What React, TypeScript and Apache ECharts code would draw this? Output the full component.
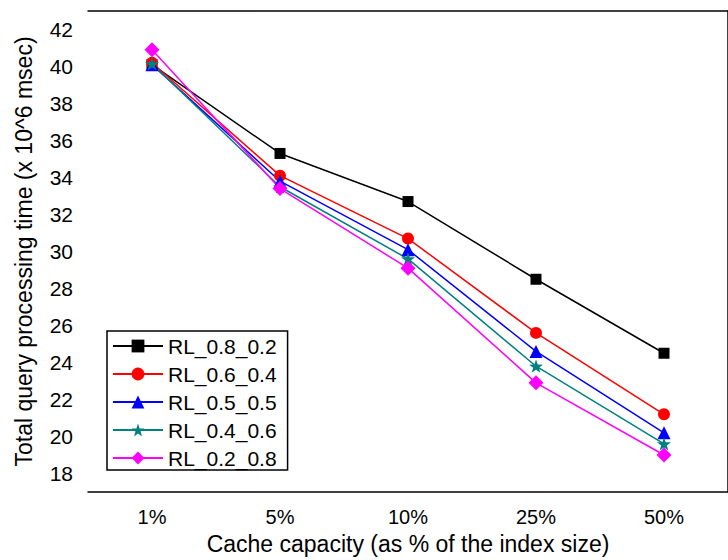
import React, { useEffect, useRef } from 'react';
import * as echarts from 'echarts';

const categories = ['1%', '5%', '10%', '25%', '50%'];
const seriesNames = ['RL_0.8_0.2', 'RL_0.6_0.4', 'RL_0.5_0.5', 'RL_0.4_0.6', 'RL_0.2_0.8'];
const rl_08_02 = [40.1, 35.3, 32.7, 28.5, 24.5];
const rl_06_04 = [40.2, 34.1, 30.7, 25.6, 21.2];
const rl_05_05 = [40.1, 33.8, 30.1, 24.6, 20.2];
const rl_04_06 = [40.15, 33.5, 29.6, 23.8, 19.6];
const rl_02_08 = [40.9, 33.4, 29.1, 22.9, 19.0];
const yMin = 17;
const yMax = 43;
const yTickLabels = ['17', '18', '19', '20', '21', '22', '23', '24', '25', '26', '27', '28', '29', '30', '31', '32', '33', '34', '35', '36', '37', '38', '39', '40', '41', '42', '43'];

const colors = ['#000000', '#ff0000', '#0000ff', '#008080', '#ff00ff'];
const STAR = 'path://M0,-1L0.235,-0.324L0.951,-0.309L0.380,0.124L0.588,0.809L0,0.4L-0.588,0.809L-0.380,0.124L-0.951,-0.309L-0.235,-0.324Z';
const symbols = ['rect', 'circle', 'triangle', STAR, 'diamond'];
const symbolSizes = [11, 12, 13, 14, 15];
const FONT = 'Arial, "Liberation Sans", sans-serif';

const isEven = (_i: number, v: string) => Number(v) % 2 === 0;

export default function App() {
  const ref = useRef<HTMLDivElement>(null);
  useEffect(() => {
    if (!ref.current) return;
    const chart = echarts.init(ref.current, null, { renderer: 'svg' });
    const allData = [rl_08_02, rl_06_04, rl_05_05, rl_04_06, rl_02_08];
    const lineAxis = { lineStyle: { color: '#000', width: 1.5 } };
    chart.setOption({
      animation: false,
      backgroundColor: '#ffffff',
      textStyle: { fontFamily: FONT, color: '#000' },
      grid: { left: 88, top: 11, right: -6, bottom: 68 },
      legend: {
        orient: 'vertical',
        left: 107,
        top: 331,
        padding: [4, 11, 1, 5],
        itemWidth: 50,
        itemHeight: 16,
        itemGap: 6,
        borderColor: '#000',
        borderWidth: 1.5,
        backgroundColor: '#fff',
        textStyle: { fontSize: 21, lineHeight: 22, color: '#000', fontFamily: FONT },
        data: seriesNames,
      },
      xAxis: [
        {
          type: 'category', position: 'bottom', data: categories, boundaryGap: true,
          axisLine: lineAxis,
          axisTick: { alignWithLabel: true, length: 8, lineStyle: { color: '#000', width: 1.5 } },
          axisLabel: { fontSize: 20, color: '#000', margin: 15, fontFamily: FONT },
          name: 'Cache capacity (as % of the index size)',
          nameLocation: 'middle', nameGap: 40,
          nameTextStyle: { fontSize: 23, color: '#000', fontFamily: FONT },
        },
        {
          type: 'category', position: 'bottom', data: categories, boundaryGap: true,
          axisLine: { show: false },
          axisTick: { length: 5, lineStyle: { color: '#000', width: 1.5 } },
          axisLabel: { show: false },
        },
        {
          type: 'category', position: 'top', data: categories, boundaryGap: true,
          axisLine: lineAxis,
          axisTick: { inside: true, alignWithLabel: true, length: 8, lineStyle: { color: '#000', width: 1.5 } },
          axisLabel: { show: false },
        },
        {
          type: 'category', position: 'top', data: categories, boundaryGap: true,
          axisLine: { show: false },
          axisTick: { inside: true, length: 4, lineStyle: { color: '#000', width: 1.5 } },
          axisLabel: { show: false },
        },
      ],
      yAxis: [
        {
          type: 'value', position: 'left', min: yMin, max: yMax, interval: 1,
          axisLine: lineAxis,
          axisTick: { length: 5, lineStyle: { color: '#000', width: 1.5 } },
          axisLabel: { show: false },
          splitLine: { show: false },
          name: 'Total query processing time (x 10^6 msec)',
          nameLocation: 'middle', nameGap: 53, nameRotate: 90,
          nameTextStyle: { fontSize: 23, color: '#000', fontFamily: FONT },
        },
        {
          type: 'category', position: 'left', data: yTickLabels, boundaryGap: false,
          axisLine: { show: false },
          axisTick: { length: 9, interval: isEven, lineStyle: { color: '#000', width: 1.5 } },
          axisLabel: { interval: isEven, fontSize: 21, color: '#000', margin: 15, fontFamily: FONT },
        },
        {
          type: 'category', position: 'right', data: yTickLabels, boundaryGap: false,
          axisLine: lineAxis,
          axisTick: { inside: true, length: 8, interval: isEven, lineStyle: { color: '#000', width: 1.5 } },
          axisLabel: { show: false },
        },
      ],
      series: seriesNames.map((name, i) => ({
        name,
        type: 'line',
        xAxisIndex: 0,
        yAxisIndex: 0,
        data: allData[i],
        symbol: symbols[i],
        symbolSize: symbolSizes[i],
        symbolKeepAspect: true,
        showAllSymbol: true,
        lineStyle: { color: colors[i], width: 1.5 },
        itemStyle: { color: colors[i], borderWidth: 0 },
        emphasis: { disabled: true },
      })),
    });
    return () => chart.dispose();
  }, []);
  return <div ref={ref} style={{ position: 'fixed', left: 0, top: 0, width: 728, height: 560 }} />;
}
